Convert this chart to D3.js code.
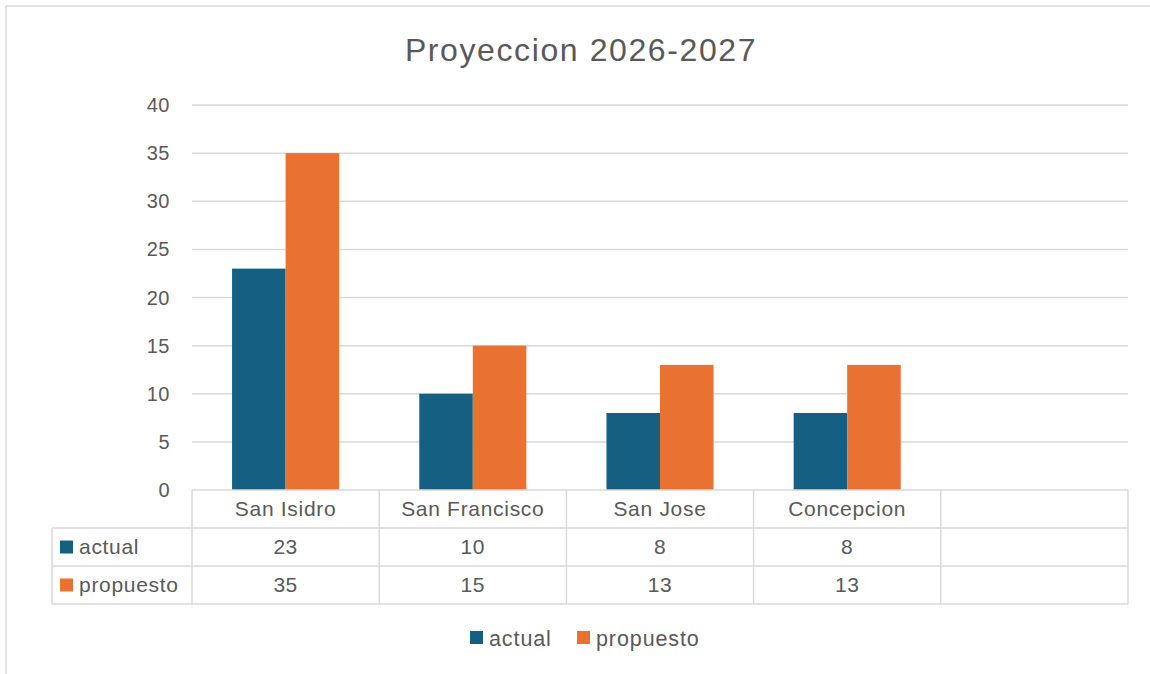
<!DOCTYPE html>
<html>
<head>
<meta charset="utf-8">
<script src="https://cdn.jsdelivr.net/npm/d3@7"></script>
<style>
  body { margin: 0; background: #fff; }
  svg text { font-family: "Liberation Sans", "Roboto", sans-serif; fill: #595959; }
</style>
</head>
<body>
<div id="chart"></div>
<script>
// data
var categories = ["San Isidro", "San Francisco", "San Jose", "Concepcion", ""];
var seriesNames = ["actual", "propuesto"];
var actual = [23, 10, 8, 8, null];
var propuesto = [35, 15, 13, 13, null];
var yTicks = [0, 5, 10, 15, 20, 25, 30, 35, 40];
var colors = ["#156082", "#E97132"];

var W = 1150, H = 674;
var plotLeft = 192, plotRight = 1128, plotTop = 105, base = 490;
var rowH = 38;

var svg = d3.select("#chart").append("svg")
    .attr("width", W)
    .attr("height", H);

// outer border
svg.append("rect")
    .attr("x", 6).attr("y", 6)
    .attr("width", W + 10).attr("height", H + 10)
    .attr("fill", "none")
    .attr("stroke", "#d9d9d9")
    .attr("stroke-width", 1.5);

svg.append("text")
    .attr("x", 581).attr("y", 61)
    .attr("text-anchor", "middle")
    .style("font-size", "32px")
    .style("letter-spacing", "1.6px")
    .text("Proyeccion 2026-2027");

var y = d3.scaleLinear().domain([0, 40]).range([base, plotTop]);
var x = d3.scaleBand().domain(d3.range(categories.length)).range([plotLeft, plotRight]).padding(0);
var step = x.bandwidth();
var xs = d3.scaleBand().domain(d3.range(seriesNames.length))
    .range([step * 0.214, step * 0.786]).padding(0);

// gridlines
svg.append("g").selectAll("line")
    .data(yTicks.filter(function(d) { return d > 0; }))
    .enter().append("line")
    .attr("x1", plotLeft).attr("x2", plotRight)
    .attr("y1", function(d) { return y(d); })
    .attr("y2", function(d) { return y(d); })
    .attr("stroke", "#d9d9d9")
    .attr("stroke-width", 1.5);

// y labels
svg.append("g").selectAll("text")
    .data(yTicks)
    .enter().append("text")
    .attr("x", 170)
    .attr("y", function(d) { return y(d); })
    .attr("dy", "0.35em")
    .attr("text-anchor", "end")
    .style("font-size", "20px")
    .style("letter-spacing", "0.5px")
    .text(function(d) { return d; });

// bars
var seriesData = [actual, propuesto];
seriesData.forEach(function(vals, s) {
    svg.append("g").selectAll("rect")
        .data(vals.map(function(v, i) { return {i: i, v: v}; }).filter(function(d) { return d.v != null; }))
        .enter().append("rect")
        .attr("x", function(d) { return x(d.i) + xs(s); })
        .attr("y", function(d) { return y(d.v); })
        .attr("width", xs.bandwidth())
        .attr("height", function(d) { return base - y(d.v); })
        .attr("fill", colors[s]);
});

// data table
var tbl = svg.append("g")
    .attr("stroke", "#d9d9d9")
    .attr("stroke-width", 1.5)
    .attr("fill", "none");
var tableLeft = 52;
// horizontal lines
tbl.append("line").attr("x1", plotLeft).attr("x2", plotRight).attr("y1", base).attr("y2", base);
[1, 2, 3].forEach(function(r) {
    tbl.append("line").attr("x1", tableLeft).attr("x2", plotRight)
        .attr("y1", base + r * rowH).attr("y2", base + r * rowH);
});
// vertical lines
tbl.append("line").attr("x1", tableLeft).attr("x2", tableLeft).attr("y1", base + rowH).attr("y2", base + 3 * rowH);
d3.range(categories.length + 1).forEach(function(i) {
    var xx = i < categories.length ? x(i) : plotRight;
    tbl.append("line").attr("x1", xx).attr("x2", xx).attr("y1", base).attr("y2", base + 3 * rowH);
});

// category labels
svg.append("g").selectAll("text")
    .data(categories)
    .enter().append("text")
    .attr("x", function(d, i) { return x(i) + step / 2; })
    .attr("y", base + rowH / 2)
    .attr("dy", "0.35em")
    .attr("text-anchor", "middle")
    .style("font-size", "21px")
    .style("letter-spacing", "0.7px")
    .text(function(d) { return d; });

seriesData.forEach(function(vals, s) {
    var cy = base + rowH * (s + 1) + rowH / 2;
    svg.append("rect")
        .attr("x", 60).attr("y", cy - 6.5)
        .attr("width", 13).attr("height", 13)
        .attr("fill", colors[s]);
    svg.append("text")
        .attr("x", 79).attr("y", cy)
        .attr("dy", "0.35em")
        .style("font-size", "21px")
        .style("letter-spacing", "0.7px")
        .text(seriesNames[s]);
    svg.append("g").selectAll("text")
        .data(vals)
        .enter().append("text")
        .attr("x", function(d, i) { return x(i) + step / 2; })
        .attr("y", cy)
        .attr("dy", "0.35em")
        .attr("text-anchor", "middle")
        .style("font-size", "21px")
        .style("letter-spacing", "0.5px")
        .text(function(d) { return d == null ? "" : d; });
});

// legend
var legX = [470, 577];
seriesNames.forEach(function(n, s) {
    svg.append("rect")
        .attr("x", legX[s]).attr("y", 631)
        .attr("width", 13).attr("height", 13)
        .attr("fill", colors[s]);
    svg.append("text")
        .attr("x", legX[s] + 19).attr("y", 638)
        .attr("dy", "0.35em")
        .style("font-size", "21.5px")
        .style("letter-spacing", "0.9px")
        .text(n);
});
</script>
</body>
</html>
